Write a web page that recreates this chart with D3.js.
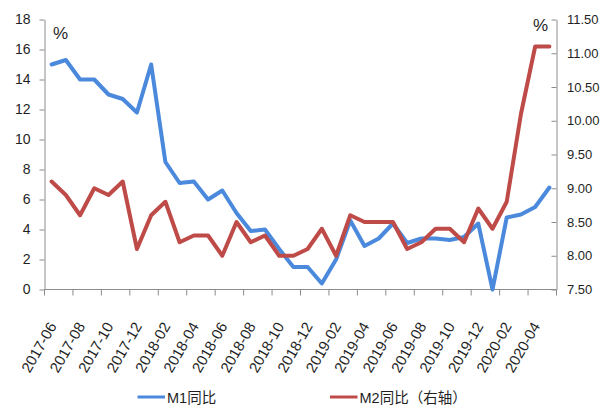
<!DOCTYPE html>
<html>
<head>
<meta charset="utf-8">
<script src="https://cdn.jsdelivr.net/npm/d3@7"></script>
<style>
  html, body { margin: 0; padding: 0; background: #fff; }
  svg { display: block; }
  text { fill: #1f1f1f; font-family: "Liberation Sans", Arial, sans-serif; }
  .cjk { font-family: "Liberation Sans", Arial, "Noto Sans CJK SC", sans-serif; }
</style>
</head>
<body>
<svg id="chart" width="607" height="410"></svg>
<script>
// Monthly categories, 2017-06 .. 2020-05
const categories = [
  "2017-06","2017-07","2017-08","2017-09","2017-10","2017-11","2017-12",
  "2018-01","2018-02","2018-03","2018-04","2018-05","2018-06","2018-07",
  "2018-08","2018-09","2018-10","2018-11","2018-12",
  "2019-01","2019-02","2019-03","2019-04","2019-05","2019-06","2019-07",
  "2019-08","2019-09","2019-10","2019-11","2019-12",
  "2020-01","2020-02","2020-03","2020-04","2020-05"
];

// M1 year-on-year growth, % (left axis)
const m1Values = [
  15.0, 15.3, 14.0, 14.0, 13.0, 12.7, 11.8,
  15.0, 8.5, 7.1, 7.2, 6.0, 6.6, 5.1,
  3.9, 4.0, 2.7, 1.5, 1.5,
  0.4, 2.0, 4.6, 2.9, 3.4, 4.4, 3.1,
  3.4, 3.4, 3.3, 3.5, 4.4,
  0.0, 4.8, 5.0, 5.5, 6.8
];

// M2 year-on-year growth, % (right axis)
const m2Values = [
  9.1, 8.9, 8.6, 9.0, 8.9, 9.1, 8.1,
  8.6, 8.8, 8.2, 8.3, 8.3, 8.0, 8.5,
  8.2, 8.3, 8.0, 8.0, 8.1,
  8.4, 8.0, 8.6, 8.5, 8.5, 8.5, 8.1,
  8.2, 8.4, 8.4, 8.2, 8.7,
  8.4, 8.8, 10.1, 11.1, 11.1
];

const leftTicks = [0, 2, 4, 6, 8, 10, 12, 14, 16, 18];
const rightTicks = [7.5, 8.0, 8.5, 9.0, 9.5, 10.0, 10.5, 11.0, 11.5];
const seriesNames = ["M1同比", "M2同比（右轴）"];
const seriesColors = ["#4a89dc", "#be4b48"];

const svg = d3.select("#chart");
const plot = { left: 44.5, right: 556.5, top: 19.5, bottom: 289.5 };
const axisColor = "#8c8c8c";

const x = d3.scaleBand().domain(categories).range([plot.left, plot.right]).paddingInner(0).paddingOuter(0);
const yL = d3.scaleLinear().domain([0, 18]).range([plot.bottom, plot.top]);
const yR = d3.scaleLinear().domain([7.5, 11.5]).range([plot.bottom, plot.top]);
const cx = c => x(c) + x.bandwidth() / 2;

// Left value axis
const gL = svg.append("g").attr("transform", `translate(${plot.left},0)`)
  .call(d3.axisLeft(yL).tickValues(leftTicks).tickSize(5).tickSizeOuter(0).tickPadding(9).tickFormat(d3.format("d")));
gL.selectAll("path, line").attr("stroke", axisColor);
gL.selectAll("text").style("font-size", "14px").attr("fill", "#1f1f1f");

// Right value axis
const gR = svg.append("g").attr("transform", `translate(${plot.right},0)`)
  .call(d3.axisRight(yR).tickValues(rightTicks).tickSize(-5).tickSizeOuter(0).tickPadding(10.5).tickFormat(d3.format(".2f")));
gR.selectAll("path, line").attr("stroke", axisColor);
gR.selectAll("text").style("font-size", "13px").attr("fill", "#1f1f1f");

// Category axis: line, tick marks every two months, rotated labels
const gX = svg.append("g");
gX.append("line")
  .attr("x1", plot.left).attr("x2", plot.right)
  .attr("y1", plot.bottom).attr("y2", plot.bottom)
  .attr("stroke", axisColor);
const tickCats = categories.filter((d, i) => i % 2 === 0);
const tickXs = tickCats.map(c => x(c)).concat([plot.right]);
gX.selectAll("line.tick").data(tickXs).join("line")
  .attr("class", "tick")
  .attr("x1", d => d).attr("x2", d => d)
  .attr("y1", plot.bottom).attr("y2", plot.bottom + 6)
  .attr("stroke", axisColor);
gX.selectAll("text").data(tickCats).join("text")
  .attr("transform", d => `translate(${cx(d) + 1},${plot.bottom + 34}) rotate(-60)`)
  .attr("text-anchor", "end")
  .attr("dy", "0.35em")
  .style("font-size", "15px")
  .text(d => d);

// Unit labels
svg.append("text").attr("x", 53).attr("y", 39).style("font-size", "17px")
  .style("font-family", "'Liberation Sans Narrow', 'Liberation Sans', sans-serif").text("%");
svg.append("text").attr("x", 533).attr("y", 31).style("font-size", "17px")
  .style("font-family", "'Liberation Sans Narrow', 'Liberation Sans', sans-serif").text("%");

// Series lines
const lineL = d3.line().x((d, i) => cx(categories[i])).y(d => yL(d));
const lineR = d3.line().x((d, i) => cx(categories[i])).y(d => yR(d));

svg.append("path").datum(m1Values)
  .attr("d", lineL).attr("fill", "none")
  .attr("stroke", seriesColors[0]).attr("stroke-width", 4)
  .attr("stroke-linejoin", "round").attr("stroke-linecap", "round");
svg.append("path").datum(m2Values)
  .attr("d", lineR).attr("fill", "none")
  .attr("stroke", seriesColors[1]).attr("stroke-width", 4)
  .attr("stroke-linejoin", "round").attr("stroke-linecap", "round");

// Legend
const legendX = [137.5, 330];
const lg = svg.append("g");
seriesNames.forEach((name, i) => {
  lg.append("line")
    .attr("x1", legendX[i]).attr("x2", legendX[i] + 27.5)
    .attr("y1", 397).attr("y2", 397)
    .attr("stroke", seriesColors[i]).attr("stroke-width", 3);
  lg.append("text")
    .attr("class", "cjk")
    .attr("x", legendX[i] + 29.5).attr("y", 403)
    .style("font-size", "14.5px")
    .text(name);
});
</script>
</body>
</html>
